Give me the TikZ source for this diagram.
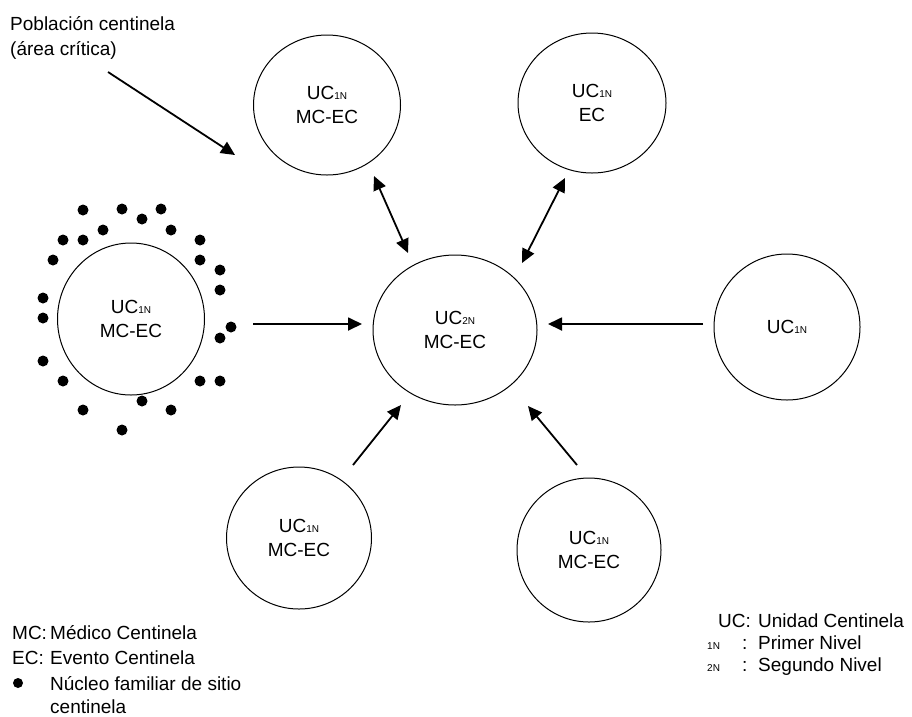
\documentclass[tikz,border=0pt]{standalone}
\usepackage{fontspec}
\setmainfont{Liberation Sans}
\usetikzlibrary{shapes.geometric,arrows.meta}
\newcommand\subtxt[1]{{\fontsize{10}{10}\selectfont #1}}
\begin{document}
\begin{tikzpicture}[x=1pt,y=-1pt,
  unit/.style={draw,line width=1pt,ellipse,inner sep=0pt,align=center,font=\fontsize{19}{24}\selectfont},
  lbl/.style={anchor=base west,inner sep=0pt,font=\fontsize{19}{24}\selectfont},
  arr/.style={line width=1.8pt,-{Triangle[length=14pt,width=13pt]}},
  darr/.style={line width=1.8pt,{Triangle[length=14pt,width=13pt]}-{Triangle[length=14pt,width=13pt]}},
  famdot/.style={fill=black}]
\useasboundingbox (0,0) rectangle (912,716);

% units
\node[unit,minimum width=164pt,minimum height=150pt] (C)  at (455,330) {UC\subtxt{2N}\\MC-EC};
\node[unit,minimum width=147pt,minimum height=140pt] (TL) at (327,105) {UC\subtxt{1N}\\MC-EC};
\node[unit,minimum width=148pt,minimum height=140pt] (TR) at (592,103) {UC\subtxt{1N}\\EC};
\node[unit,minimum width=147pt,minimum height=152pt] (L)  at (131,319) {UC\subtxt{1N}\\MC-EC};
\node[unit,minimum width=146pt,minimum height=146pt] (R)  at (787,327) {UC\subtxt{1N}};
\node[unit,minimum width=145pt,minimum height=142pt] (BL) at (299,538) {UC\subtxt{1N}\\MC-EC};
\node[unit,minimum width=144pt,minimum height=144pt] (BR) at (589,550) {UC\subtxt{1N}\\MC-EC};

% family dots
\foreach \x/\y in {83/210,122/209,142/219,161/209,63/240,83/240,103/230,171/230,
  200/240,53/260,200/260,220/270,220/290,43/298,43/318,231/327,220/338,43/361,
  63/381,200/381,220/381,142/401,83/410,171/410,122/430}
  \fill[famdot] (\x,\y) circle (5.5);

% connector end points
\coordinate (pa) at (108,72);   \coordinate (pb) at (235,155);
\coordinate (tla) at (374,176); \coordinate (tlb) at (408,253);
\coordinate (tra) at (565,178); \coordinate (trb) at (522,263);
\coordinate (la) at (253,324);  \coordinate (lb) at (362,324);
\coordinate (ra) at (703,324);  \coordinate (rb) at (548,324);
\coordinate (bla) at (353,465); \coordinate (blb) at (401,405);
\coordinate (bra) at (577,465); \coordinate (brb) at (528,406);

\draw[arr] (pa) -- (pb);
\draw[darr] (tla) -- (tlb);
\draw[darr] (tra) -- (trb);
\draw[arr] (la) -- (lb);
\draw[arr] (ra) -- (rb);
\draw[arr] (bla) -- (blb);
\draw[arr] (bra) -- (brb);

% top-left label
\node[lbl] (pob1) at (10,30) {Población centinela};
\node[lbl] (pob2) at (10,55) {(área crítica)};

% left legend
\node[lbl] (mc)  at (12,639) {MC:};
\node[lbl] (mct) at (50,639) {Médico Centinela};
\node[lbl] (ec)  at (12,664) {EC:};
\node[lbl] (ect) at (50,664) {Evento Centinela};
\fill[famdot] (18,683) circle (5);
\node[lbl] (nf1) at (50,690) {Núcleo familiar de sitio};
\node[lbl] (nf2) at (50,713) {centinela};

% right legend
\node[lbl] (uc)  at (718,627) {UC:};
\node[lbl] (uct) at (758,627) {Unidad Centinela};
\node[lbl] (n1)  at (707,649) {\subtxt{1N}};
\node[lbl] (n1c) at (742,649) {:};
\node[lbl] (n1t) at (758,649) {Primer Nivel};
\node[lbl] (n2)  at (707,671) {\subtxt{2N}};
\node[lbl] (n2c) at (742,671) {:};
\node[lbl] (n2t) at (758,671) {Segundo Nivel};
\end{tikzpicture}
\end{document}
